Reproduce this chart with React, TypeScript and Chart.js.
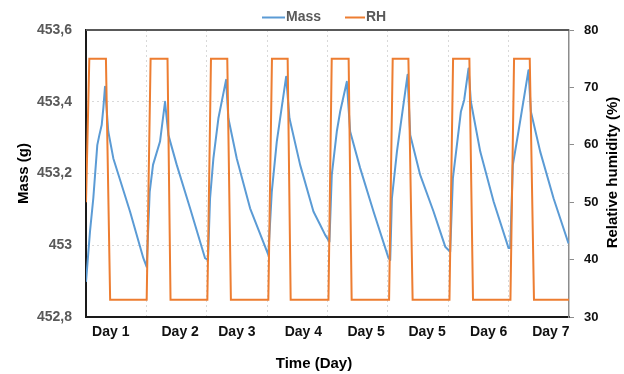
import React, { useEffect, useRef } from 'react';
import { Chart, registerables } from 'chart.js';

Chart.register(...registerables);

// ---- data (time in days) ----
const massDays = [
  0.0, 0.066, 0.121, 0.187, 0.221, 0.26, 0.287, 0.315, 0.369, 0.453, 0.729, 0.95, 1.005,
  1.055, 1.11, 1.226, 1.309, 1.365, 1.503, 1.724, 1.972, 2.02,
  2.055, 2.11, 2.193, 2.32, 2.358, 2.497, 2.718, 3.02,
  3.077, 3.16, 3.315, 3.37, 3.547, 3.767, 3.878, 3.961, 4.032,
  4.071, 4.154, 4.209, 4.32, 4.375, 4.541, 4.762, 5.011, 5.039,
  5.067, 5.15, 5.326, 5.37, 5.535, 5.756, 5.867, 5.95, 6.032,
  6.077, 6.143, 6.209, 6.264, 6.336, 6.375, 6.53, 6.751, 6.999, 7.026,
  7.07, 7.163, 7.329, 7.369, 7.523, 7.744, 7.992,
];
const massValues = [
  452.898, 453.038, 453.131, 453.279, 453.307, 453.335, 453.382, 453.442, 453.317, 453.242, 453.094, 452.964, 452.94,
  453.149, 453.224, 453.289, 453.4, 453.307, 453.224, 453.103, 452.964, 452.959,
  453.131, 453.242, 453.354, 453.461, 453.354, 453.242, 453.103, 452.973,
  453.149, 453.289, 453.47, 453.354, 453.224, 453.094, 453.057, 453.029, 453.01,
  453.196, 453.317, 453.372, 453.456, 453.317, 453.215, 453.094, 452.964, 452.959,
  453.131, 453.261, 453.475, 453.307, 453.196, 453.094, 453.038, 452.996, 452.982,
  453.187, 453.279, 453.372, 453.405, 453.493, 453.4, 453.261, 453.122, 452.992, 452.992,
  453.224, 453.317, 453.488, 453.372, 453.261, 453.131, 453.005,
];

const rhDays = [
  0.0, 0.055, 0.33, 0.4,
  1.005, 1.07, 1.35, 1.4,
  2.01, 2.07, 2.34, 2.4,
  3.02, 3.08, 3.34, 3.39,
  4.016, 4.07, 4.35, 4.4,
  5.02, 5.08, 5.34, 5.41,
  6.02, 6.08, 6.35, 6.41,
  7.03, 7.09, 7.35, 7.42,
  8.0,
];
const rhValues = [
  50, 75, 75, 33,
  33, 75, 75, 33,
  33, 75, 75, 33,
  33, 75, 75, 33,
  33, 75, 75, 33,
  33, 75, 75, 33,
  33, 75, 75, 33,
  33, 75, 75, 33,
  33,
];

const dayBoundaries = [1, 2, 3, 4, 5, 6, 7];
const dayLabels = ['Day 1', 'Day 2', 'Day 3', 'Day 4', 'Day 5', 'Day 5', 'Day 6', 'Day 7'];
const dayLabelAt = [0.41, 1.56, 2.5, 3.6, 4.64, 5.65, 6.67, 7.7];

const massMin = 452.8;
const massMax = 453.6;
const massStep = 0.2;
const rhMin = 30;
const rhMax = 80;
const rhStep = 10;

const seriesNames = ['Mass', 'RH'];
const axisTitles = { x: 'Time (Day)', left: 'Mass (g)', right: 'Relative humidity (%)' };

// ---- styles ----
const FONT = '"Liberation Sans", Arial, sans-serif';
const BLUE = '#5B9BD5';
const ORANGE = '#ED7D31';
const GRID = '#d9d9d9';

const xTickValues = [...dayBoundaries, ...dayLabelAt].sort((a, b) => a - b);

const decorPlugin = {
  id: 'decor',
  afterDraw(chart: any) {
    const { ctx, chartArea: a } = chart;
    ctx.save();
    // top frame line
    ctx.strokeStyle = '#595959';
    ctx.lineWidth = 2;
    ctx.beginPath();
    ctx.moveTo(a.left, a.top);
    ctx.lineTo(a.right, a.top);
    ctx.stroke();

    // axis titles
    ctx.fillStyle = '#000000';
    ctx.font = `bold 15px ${FONT}`;
    ctx.textAlign = 'center';
    ctx.textBaseline = 'middle';
    ctx.fillText(axisTitles.x, 314, 364);

    const midY = (a.top + a.bottom) / 2;
    ctx.save();
    ctx.translate(24, midY);
    ctx.rotate(-Math.PI / 2);
    ctx.fillText(axisTitles.left, 0, 0);
    ctx.restore();

    ctx.save();
    ctx.translate(613, midY - 1);
    ctx.rotate(-Math.PI / 2);
    ctx.fillText(axisTitles.right, 0, 0);
    ctx.restore();

    // legend
    const items = [
      { x: 262, len: 23, color: BLUE, text: chart.data.datasets[1].label },
      { x: 345, len: 20, color: ORANGE, text: chart.data.datasets[0].label },
    ];
    ctx.font = `bold 14px ${FONT}`;
    ctx.textAlign = 'left';
    for (const it of items) {
      ctx.strokeStyle = it.color;
      ctx.lineWidth = 2;
      ctx.beginPath();
      ctx.moveTo(it.x, 17.5);
      ctx.lineTo(it.x + it.len, 17.5);
      ctx.stroke();
      ctx.fillStyle = '#595959';
      ctx.fillText(it.text, it.x + it.len + 1, 17);
    }
    ctx.restore();
  },
};

function fmtMass(v: number) {
  return String(Number(v.toFixed(1))).replace('.', ',');
}

export default function App() {
  const ref = useRef<HTMLCanvasElement | null>(null);

  useEffect(() => {
    if (!ref.current) return;
    const chart = new Chart(ref.current, {
      type: 'line',
      data: {
        datasets: [
          {
            label: seriesNames[1],
            data: rhDays.map((d, i) => ({ x: d, y: rhValues[i] })),
            borderColor: ORANGE,
            backgroundColor: ORANGE,
            borderWidth: 2,
            pointRadius: 0,
            tension: 0,
            yAxisID: 'y1',
            order: 0,
          },
          {
            label: seriesNames[0],
            data: massDays.map((d, i) => ({ x: d, y: massValues[i] })),
            borderColor: BLUE,
            backgroundColor: BLUE,
            borderWidth: 2,
            pointRadius: 0,
            tension: 0,
            borderJoinStyle: 'round',
            yAxisID: 'y',
            order: 1,
          },
        ],
      },
      options: {
        responsive: false,
        animation: false,
        layout: { padding: { top: 30, left: 0, right: 0, bottom: 0 } },
        plugins: { legend: { display: false }, tooltip: { enabled: false } },
        scales: {
          x: {
            type: 'linear',
            position: 'bottom',
            min: 0,
            max: 8,
            afterBuildTicks: (s: any) => {
              s.ticks = xTickValues.map((v) => ({ value: v }));
            },
            afterFit: (s: any) => {
              s.height = 57;
            },
            ticks: {
              autoSkip: false,
              maxRotation: 0,
              minRotation: 0,
              padding: 7,
              color: '#111111',
              font: { family: FONT, size: 14, weight: 'bold' },
              callback: (v: any) => {
                const idx = dayLabelAt.indexOf(Number(v));
                return idx >= 0 ? dayLabels[idx] : '';
              },
            },
            grid: {
              drawTicks: false,
              lineWidth: 1,
              color: (c: any) =>
                c.tick && dayBoundaries.includes(c.tick.value) ? GRID : 'rgba(0,0,0,0)',
            },
            border: { display: true, color: '#1a1a1a', width: 2, dash: [2, 3] },
          },
          y: {
            type: 'linear',
            position: 'left',
            min: massMin,
            max: massMax,
            afterFit: (s: any) => {
              s.width = 86;
            },
            ticks: {
              stepSize: massStep,
              padding: 14,
              color: '#595959',
              font: { family: FONT, size: 14, weight: 'bold' },
              callback: (v: any) => fmtMass(Number(v)),
            },
            grid: { drawTicks: false, color: GRID, lineWidth: 1 },
            border: { display: true, color: '#1a1a1a', width: 2, dash: [2, 3] },
          },
          y1: {
            type: 'linear',
            position: 'right',
            min: rhMin,
            max: rhMax,
            afterFit: (s: any) => {
              s.width = 55;
            },
            ticks: {
              stepSize: rhStep,
              padding: 10,
              color: '#111111',
              font: { family: FONT, size: 13, weight: 'bold' },
            },
            grid: {
              drawOnChartArea: false,
              drawTicks: true,
              tickLength: 5,
              color: '#8c8c8c',
              lineWidth: 1,
            },
            border: { display: true, color: '#8c8c8c', width: 1.5 },
          },
        },
      },
      plugins: [decorPlugin],
    } as any);
    return () => chart.destroy();
  }, []);

  return (
    <div style={{ position: 'fixed', left: 0, top: 0, width: 624, height: 374, background: '#ffffff' }}>
      <canvas ref={ref} width={624} height={374} style={{ display: 'block' }} />
    </div>
  );
}
